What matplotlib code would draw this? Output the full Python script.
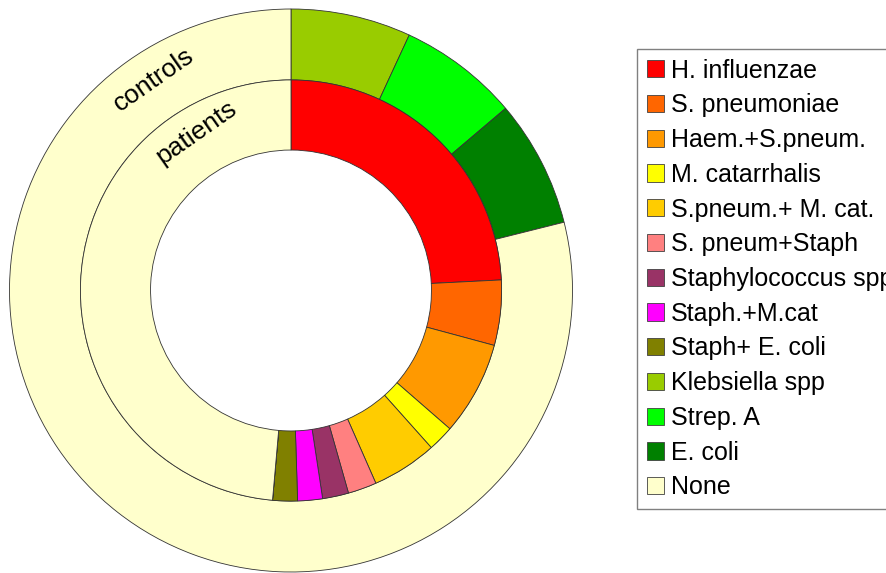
import matplotlib.pyplot as plt
from matplotlib.patches import Patch

plt.rcParams['font.family'] = ['Liberation Sans', 'DejaVu Sans']

# ---- data (share of each group) ----
labels = ['H. influenzae', 'S. pneumoniae', 'Haem.+S.pneum.', 'M. catarrhalis',
          'S.pneum.+ M. cat.', 'S. pneum+Staph', 'Staphylococcus spp',
          'Staph.+M.cat', 'Staph+ E. coli', 'Klebsiella spp', 'Strep. A',
          'E. coli', 'None']
colors = ['#FF0000', '#FF6600', '#FF9900', '#FFFF00', '#FFCC00', '#FF8080',
          '#993366', '#FF00FF', '#808000', '#99CC00', '#00FF00', '#008000',
          '#FFFFCC']
patients = [24.2, 5.0, 7.2, 2.0, 5.0, 2.2, 2.0, 1.9, 1.9, 0, 0, 0, 48.6]
controls = [0, 0, 0, 0, 0, 0, 0, 0, 0, 6.9, 6.9, 7.3, 78.9]

fig = plt.figure(figsize=(8.86, 5.73), dpi=100)
ax = fig.add_axes([9.5 / 886, 1 / 573, 563 / 886, 563 / 573])

wp = dict(edgecolor='#333333', linewidth=0.6)
# outer ring: controls
ax.pie(controls, colors=colors, radius=1.0, startangle=90, counterclock=False,
       wedgeprops=dict(width=0.252, **wp))
# inner ring: patients
ax.pie(patients, colors=colors, radius=0.748, startangle=90, counterclock=False,
       wedgeprops=dict(width=0.249, **wp))
ax.set_xlim(-1, 1)
ax.set_ylim(-1, 1)
ax.set_aspect('equal')

ax.text(-0.487, 0.75, 'controls', fontsize=19, rotation=35,
        ha='center', va='center')
ax.text(-0.337, 0.56, 'patients', fontsize=19, rotation=35,
        ha='center', va='center')

# legend box runs past the right edge, as in the original
handles = [Patch(facecolor=c, edgecolor='#404040', linewidth=0.6) for c in colors]
leg = fig.legend(handles, labels, loc='upper left',
                 bbox_to_anchor=(637 / 886, 1 - 49 / 573), borderaxespad=0,
                 fontsize=18, fancybox=False, framealpha=1,
                 handlelength=0.68, handleheight=0.68, handletextpad=0.3,
                 labelspacing=0.43, borderpad=0.38)
leg.get_frame().set_edgecolor('#808080')
leg.get_frame().set_linewidth(1.0)

fig.savefig('out.png', dpi=100)
